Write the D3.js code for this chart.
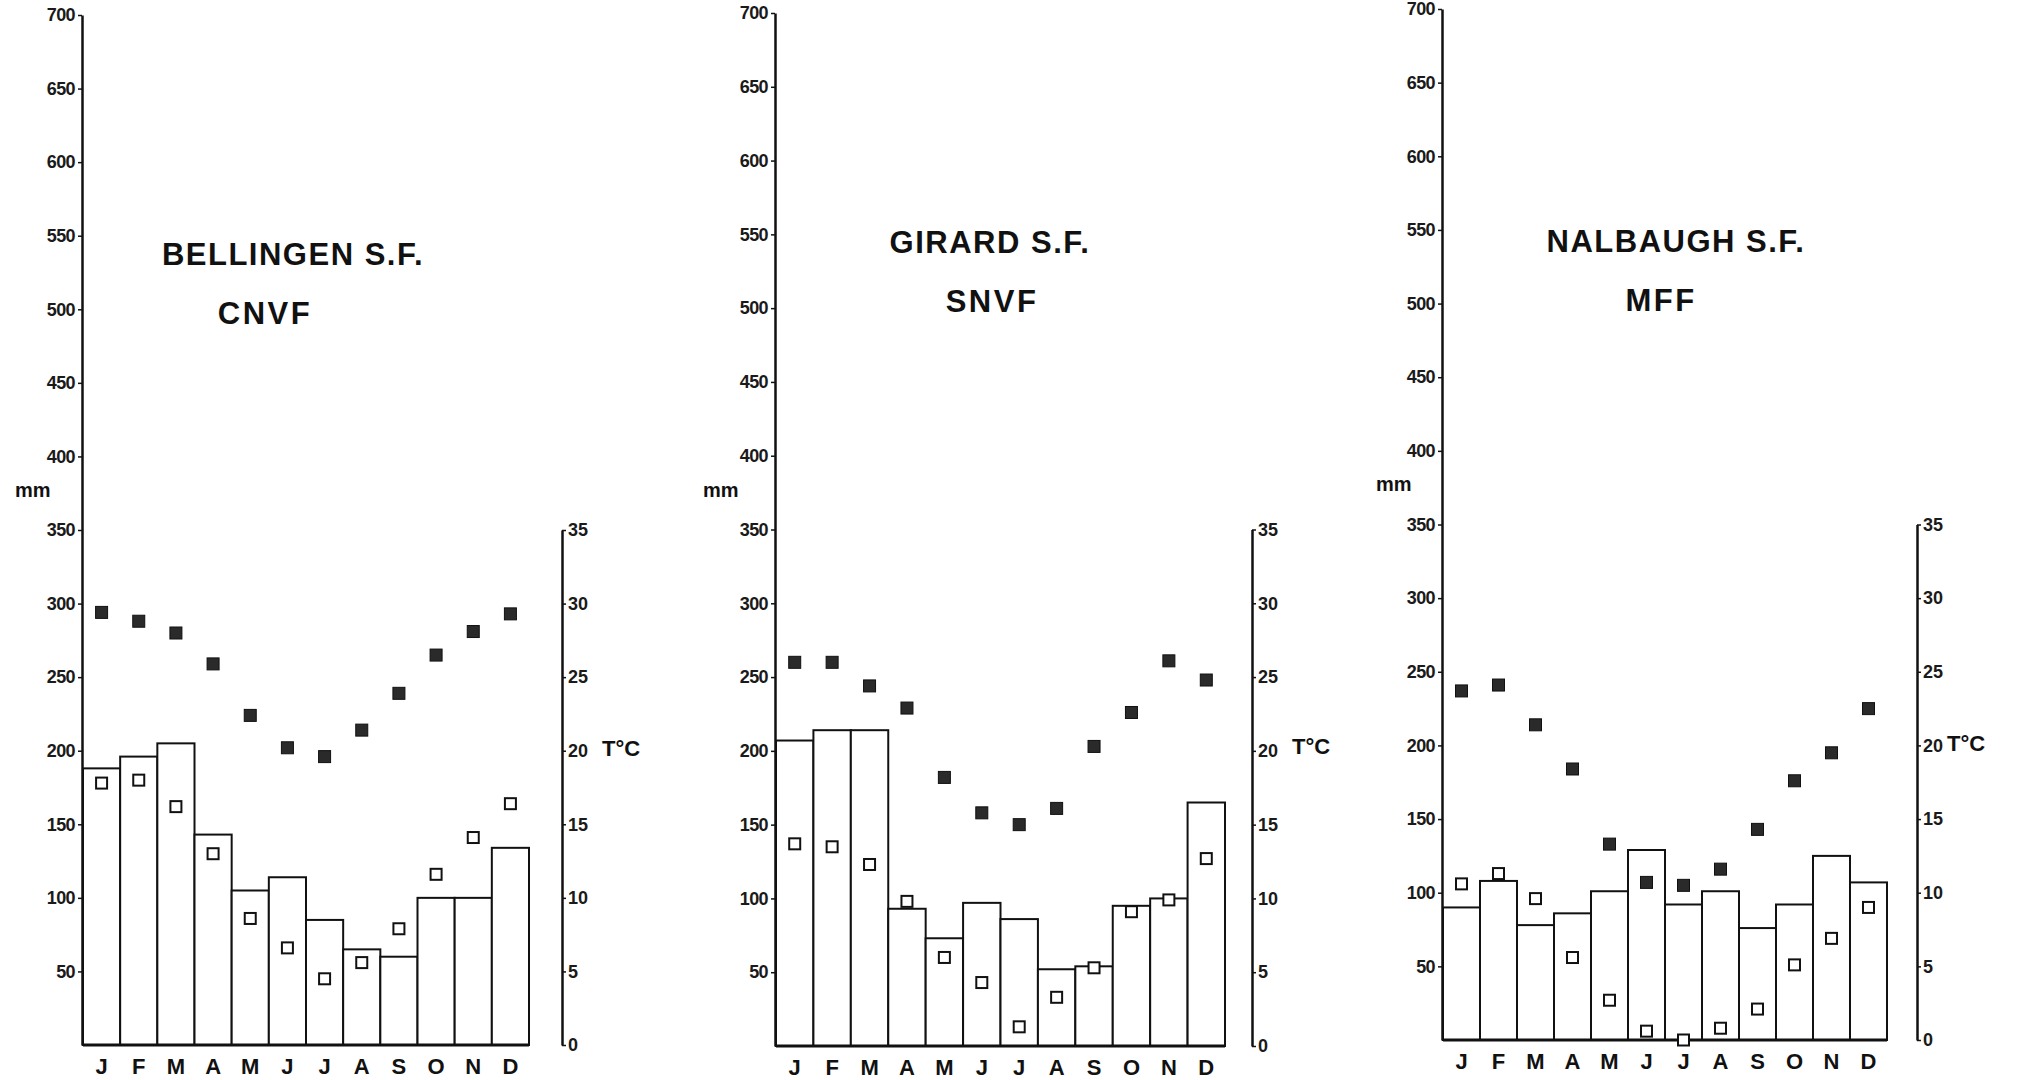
<!DOCTYPE html>
<html>
<head>
<meta charset="utf-8">
<script src="https://cdn.jsdelivr.net/npm/d3@7"></script>
<style>
  body { margin: 0; background: #fff; }
  text { font-family: "Liberation Sans", Arial, sans-serif; fill: #111; }
</style>
</head>
<body>
<svg id="chart" width="2020" height="1080"></svg>
<script>
// months and ticks
const months = ["J", "F", "M", "A", "M", "J", "J", "A", "S", "O", "N", "D"]
const rainTicks = d3.range(50, 701, 50)
const tempTicks = d3.range(0, 36, 5)

// station names
const stations = ["BELLINGEN S.F.", "GIRARD S.F.", "NALBAUGH S.F."]
const forestTypes = ["CNVF", "SNVF", "MFF"]

// rainfall, mm
const rainBellingen = [188, 196, 205, 143, 105, 114, 85, 65, 60, 100, 100, 134]
const rainGirard = [207, 214, 214, 93, 73, 97, 86, 52, 54, 95, 100, 165]
const rainNalbaugh = [90, 108, 78, 86, 101, 129, 92, 101, 76, 92, 125, 107]

// mean max temperature, deg C (filled squares)
const maxBellingen = [29.4, 28.8, 28.0, 25.9, 22.4, 20.2, 19.6, 21.4, 23.9, 26.5, 28.1, 29.3]
const maxGirard = [26.0, 26.0, 24.4, 22.9, 18.2, 15.8, 15.0, 16.1, 20.3, 22.6, 26.1, 24.8]
const maxNalbaugh = [23.7, 24.1, 21.4, 18.4, 13.3, 10.7, 10.5, 11.6, 14.3, 17.6, 19.5, 22.5]

// mean min temperature, deg C (open squares)
const minBellingen = [17.8, 18.0, 16.2, 13.0, 8.6, 6.6, 4.5, 5.6, 7.9, 11.6, 14.1, 16.4]
const minGirard = [13.7, 13.5, 12.3, 9.8, 6.0, 4.3, 1.3, 3.3, 5.3, 9.1, 9.9, 12.7]
const minNalbaugh = [10.6, 11.3, 9.6, 5.6, 2.7, 0.6, 0.0, 0.8, 2.1, 5.1, 6.9, 9.0]

const svg = d3.select("#chart")

// where each panel sits on the page
const panels = [
    { x0: 83, x1: 529, base: 1045, top: 15, rx: 562, tx: 602, ty: 748, mmx: 15, mmy: 490, c1: 293, y1: 254, c2: 265, y2: 313 },
    { x0: 776, x1: 1225, base: 1046, top: 13, rx: 1252, tx: 1292, ty: 746, mmx: 703, mmy: 490, c1: 990, y1: 242, c2: 992, y2: 301 },
    { x0: 1443, x1: 1887, base: 1040, top: 9, rx: 1917, tx: 1947, ty: 743, mmx: 1376, mmy: 484, c1: 1676, y1: 241, c2: 1661, y2: 300 }
]

drawPanel(panels[0], stations[0], forestTypes[0], rainBellingen, maxBellingen, minBellingen)
drawPanel(panels[1], stations[1], forestTypes[1], rainGirard, maxGirard, minGirard)
drawPanel(panels[2], stations[2], forestTypes[2], rainNalbaugh, maxNalbaugh, minNalbaugh)

function drawPanel(p, name, type, rain, tmax, tmin) {

    var g = svg.append("g")

    var x = d3.scaleBand()
        .domain(d3.range(12))
        .range([p.x0, p.x1])
        .paddingInner(0)
        .paddingOuter(0)

    var y = d3.scaleLinear()
        .domain([0, 700])
        .range([p.base, p.top])

    // 1 deg C drawn as 10 mm
    var t = d3.scaleLinear()
        .domain([0, 35])
        .range([p.base, y(350)])

    // rain bars
    g.selectAll("rect.bar")
        .data(rain)
        .enter()
        .append("rect")
        .attr("class", "bar")
        .attr("x", (d, i) => x(i))
        .attr("y", d => y(d))
        .attr("width", x.bandwidth())
        .attr("height", d => y(0) - y(d))
        .style("fill", "#fff")
        .style("stroke", "#111")
        .style("stroke-width", 2)

    // baseline
    g.append("line")
        .attr("x1", p.x0)
        .attr("x2", p.x1)
        .attr("y1", y(0))
        .attr("y2", y(0))
        .style("stroke", "#111")
        .style("stroke-width", 3)

    // left axis, mm
    var left = g.append("g")
        .attr("transform", "translate(" + (p.x0 - 1) + ",0)")
        .call(d3.axisLeft(y).tickValues(rainTicks).tickSize(4).tickSizeOuter(0).tickPadding(3))
    left.select(".domain").style("stroke", "#111").style("stroke-width", 2.5)
    left.selectAll(".tick line").style("stroke", "#111").style("stroke-width", 1.5)
    left.selectAll(".tick text")
        .style("font-size", "18px")
        .style("font-weight", "bold")
        .style("letter-spacing", "-0.6px")
        .style("fill", "#1a1a1a")

    // right axis, deg C
    var right = g.append("g")
        .attr("transform", "translate(" + p.rx + ",0)")
        .call(d3.axisRight(t).tickValues(tempTicks).tickSize(4).tickSizeOuter(0).tickPadding(2))
    right.select(".domain").style("stroke", "#111").style("stroke-width", 2.5)
    right.selectAll(".tick line").style("stroke", "#111").style("stroke-width", 1.5)
    right.selectAll(".tick text")
        .style("font-size", "18px")
        .style("font-weight", "bold")
        .style("fill", "#1a1a1a")

    // month letters
    var bottom = g.append("g")
        .attr("transform", "translate(0," + y(0) + ")")
        .call(d3.axisBottom(x).tickSize(0).tickPadding(13).tickFormat(i => months[i]))
    bottom.select(".domain").remove()
    bottom.selectAll(".tick text")
        .style("font-size", "22px")
        .style("font-weight", "bold")
        .style("fill", "#111")

    // mean max, filled squares
    var s1 = 12
    g.selectAll("rect.tmax")
        .data(tmax)
        .enter()
        .append("rect")
        .attr("class", "tmax")
        .attr("x", (d, i) => x(i) + x.bandwidth() / 2 - s1 / 2)
        .attr("y", d => t(d) - s1 / 2)
        .attr("width", s1)
        .attr("height", s1)
        .style("fill", "#2a2a2a")
        .style("stroke", "#111")
        .style("stroke-width", 1)

    // mean min, open squares
    var s2 = 11
    g.selectAll("rect.tmin")
        .data(tmin)
        .enter()
        .append("rect")
        .attr("class", "tmin")
        .attr("x", (d, i) => x(i) + x.bandwidth() / 2 - s2 / 2)
        .attr("y", d => t(d) - s2 / 2)
        .attr("width", s2)
        .attr("height", s2)
        .style("fill", "#fff")
        .style("stroke", "#111")
        .style("stroke-width", 2)

    // unit labels
    g.append("text")
        .attr("x", p.mmx)
        .attr("y", p.mmy + 7)
        .style("font-size", "20px")
        .style("font-weight", "bold")
        .text("mm")

    g.append("text")
        .attr("x", p.tx)
        .attr("y", p.ty + 8)
        .style("font-size", "22px")
        .style("font-weight", "bold")
        .text("T°C")

    // station title
    g.append("text")
        .attr("x", p.c1)
        .attr("y", p.y1 + 11)
        .attr("text-anchor", "middle")
        .style("font-size", "31px")
        .style("font-weight", "bold")
        .style("letter-spacing", "1.5px")
        .text(name)

    g.append("text")
        .attr("x", p.c2)
        .attr("y", p.y2 + 11)
        .attr("text-anchor", "middle")
        .style("font-size", "31px")
        .style("font-weight", "bold")
        .style("letter-spacing", "2.5px")
        .text(type)
}
</script>
</body>
</html>
